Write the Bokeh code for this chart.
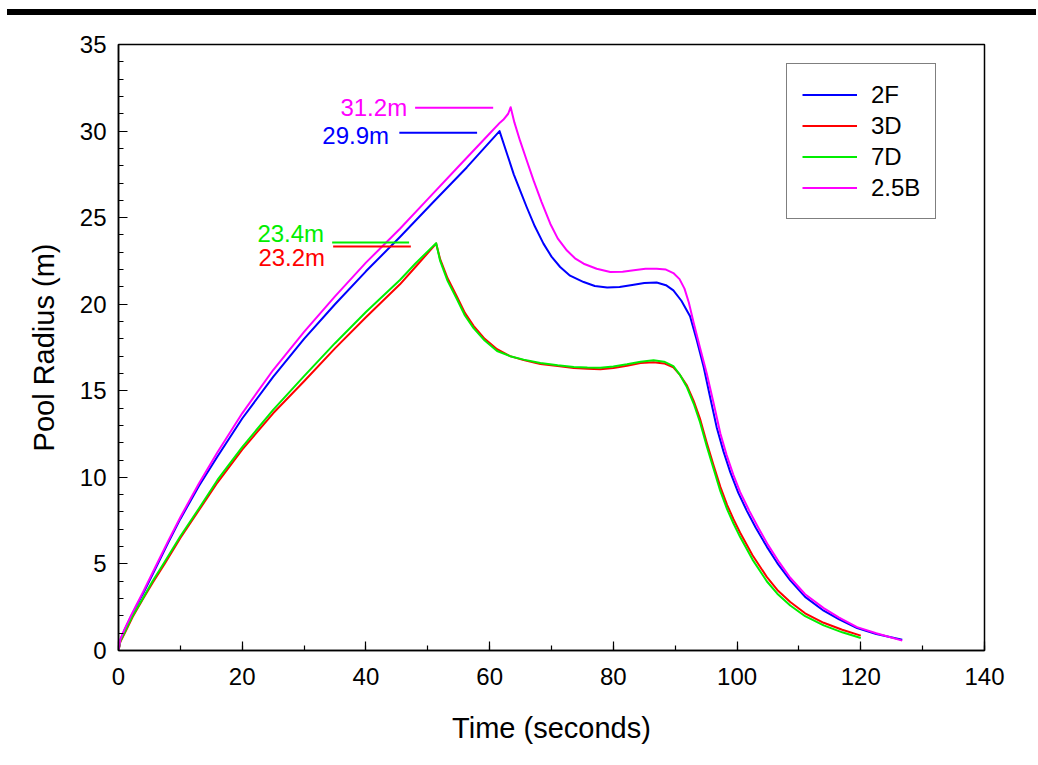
from bokeh.plotting import figure
from bokeh.layouts import column
from bokeh.models import (Range1d, SingleIntervalTicker, Legend, LegendItem,
                          ColumnDataSource, Div)
from bokeh.core.properties import value
from bokeh.embed import file_html
from bokeh.resources import INLINE

FONT = "Liberation Sans"

# ---------------- data ----------------
t_2f = [0, 0.3, 1, 2, 3, 4, 6, 8, 10, 13, 16, 20, 25, 30, 35, 40, 45.5, 50.9, 56.3, 61.6,
        63.9, 65.0, 66.0, 67.3, 68.7, 70.0, 71.4, 73.0, 75.2, 77.0, 79.0, 81.0, 83.3, 85.0, 87.0,
        88.5, 89.7, 91.0, 92.4, 93.5, 94.6, 95.6, 96.7, 97.8, 98.9, 100.2, 101.6, 103.0, 104.8,
        106.5, 108.6, 111.0, 114.0, 116.5, 119.4, 122.5, 126.7]
r_2f = [0, 0.6, 1.2, 1.95, 2.65, 3.3, 4.75, 6.2, 7.6, 9.5, 11.2, 13.4, 15.8, 18.0, 20.0, 21.9, 23.88, 25.9, 27.9, 30.0,
        27.5, 26.5, 25.6, 24.5, 23.5, 22.75, 22.15, 21.65, 21.28, 21.05, 20.96, 21.0, 21.13, 21.22, 21.25,
        21.1, 20.8, 20.2, 19.3, 17.9, 16.37, 14.7, 12.9, 11.5, 10.3, 9.1, 8.05, 7.1, 6.0,
        5.05, 4.05, 3.1, 2.3, 1.8, 1.3, 0.95, 0.62]

t_3d = [0, 0.3, 1, 2.3, 4, 5.5, 7.5, 10, 13, 16, 20, 25, 30, 35, 40, 45.5, 48, 51.35,
        52.0, 53.2, 54.7, 56.0, 57.4, 59.2, 61.2, 63.3, 65.5, 68.2, 71.0, 73.6, 75.8, 77.9, 80.0,
        82.2, 84.4, 86.5, 88.2, 89.7, 90.8, 91.9, 93.0, 94.0, 95.1, 96.2, 97.3, 98.4, 99.4,
        100.5, 102.5, 104.8, 106.5, 108.6, 111.0, 114.0, 117.0, 120.0]
r_3d = [0, 0.5, 1.0, 1.95, 3.0, 3.9, 5.03, 6.5, 8.1, 9.7, 11.6, 13.7, 15.55, 17.45, 19.25, 21.15, 22.15, 23.5,
        22.6, 21.5, 20.45, 19.5, 18.75, 18.0, 17.4, 17.0, 16.77, 16.55, 16.43, 16.32, 16.27, 16.24, 16.32,
        16.45, 16.6, 16.65, 16.58, 16.35, 15.9, 15.3, 14.4, 13.4, 12.0, 10.7, 9.45, 8.4, 7.6,
        6.8, 5.5, 4.25, 3.5, 2.8, 2.15, 1.6, 1.2, 0.86]

t_7d = [0, 0.3, 1, 2.2, 4, 5.5, 7.3, 10, 13, 16, 20, 25, 30, 35, 40, 45.5, 48, 51.35,
        52.0, 53.2, 54.7, 56.0, 57.4, 59.2, 61.2, 63.3, 65.5, 68.2, 71.0, 73.6, 75.8, 77.9, 80.0,
        82.2, 84.4, 86.5, 88.2, 89.7, 90.8, 91.9, 93.0, 94.0, 95.1, 96.2, 97.3, 98.4, 99.4,
        100.5, 102.5, 104.8, 106.5, 108.6, 111.0, 114.0, 117.0, 120.0]
r_7d = [0, 0.55, 1.05, 1.95, 3.05, 4.0, 5.03, 6.6, 8.2, 9.85, 11.75, 13.9, 15.85, 17.75, 19.55, 21.4, 22.35, 23.53,
        22.5, 21.35, 20.3, 19.35, 18.62, 17.9, 17.3, 17.0, 16.8, 16.6, 16.47, 16.38, 16.34, 16.33, 16.4,
        16.53, 16.68, 16.76, 16.68, 16.42, 15.9, 15.2, 14.25, 13.2, 11.8, 10.5, 9.2, 8.15, 7.35,
        6.55, 5.25, 4.0, 3.28, 2.6, 1.98, 1.45, 1.05, 0.72]

t_25b = [0, 0.3, 1, 2, 3, 4, 6, 8, 10, 13, 16, 20, 25, 30, 35, 40, 45.5, 50, 55, 60,
         61.7, 62.2, 63.0, 63.4, 64.0, 64.9, 66.0, 67.1, 68.4, 69.8, 71.0, 72.5, 73.8, 75.2, 77.3,
         79.5, 81.5, 83.3, 85.2, 87.0, 88.5, 89.7, 90.7, 91.5, 92.2, 93.0, 94.0, 95.1, 96.2,
         97.3, 98.3, 99.4, 100.5, 102.0, 103.5, 105.0, 106.8, 108.6, 111.0, 114.0, 116.5, 119.4, 122.5, 126.7]
r_25b = [0, 0.65, 1.25, 2.0, 2.7, 3.4, 4.85, 6.3, 7.7, 9.65, 11.45, 13.7, 16.2, 18.4, 20.45, 22.4, 24.36, 26.07, 27.97, 29.86,
         30.5, 30.65, 31.0, 31.38, 30.5, 29.46, 28.3, 27.15, 25.9, 24.65, 23.8, 23.1, 22.65, 22.34, 22.05,
         21.86, 21.88, 21.96, 22.05, 22.05, 22.0, 21.8, 21.45, 20.9, 20.1, 18.9, 17.5, 16.0, 14.3,
         12.53, 11.3, 10.15, 9.15, 8.05, 7.05, 6.1, 5.1, 4.2, 3.25, 2.45, 1.9, 1.35, 1.0, 0.57]

series_names = ["2F", "3D", "7D", "2.5B"]
series_colors = ["#0000ff", "#ff0000", "#00ee00", "#ff00ff"]

# peak annotations
ann_text = ["31.2m", "29.9m", "23.4m", "23.2m"]
ann_color = ["#ff00ff", "#0000ff", "#00ee00", "#ff0000"]
ann_text_x = [46.66, 43.74, 33.24, 33.40]
ann_text_y = [31.39, 29.75, 24.07, 22.71]
ann_x0 = [47.95, 45.4, 34.54, 34.7]
ann_x1 = [60.57, 57.97, 46.98, 47.26]
ann_y = [31.34, 29.90, 23.57, 23.34]

x_ticks_interval = 20
y_ticks_interval = 5

# ---------------- figure ----------------
p = figure(width=1036, height=747, output_backend="svg", toolbar_location=None,
           x_range=Range1d(0, 140), y_range=Range1d(0, 35),
           min_border_left=118, min_border_right=52, min_border_top=29, min_border_bottom=112,
           x_axis_label="Time (seconds)", y_axis_label="Pool Radius (m)")
p.grid.visible = False
p.outline_line_color = "black"
p.outline_line_width = 1.5
p.background_fill_color = "white"
p.border_fill_color = "white"

p.xaxis.ticker = SingleIntervalTicker(interval=x_ticks_interval, num_minor_ticks=2)
p.yaxis.ticker = SingleIntervalTicker(interval=y_ticks_interval, num_minor_ticks=5)
for ax in (p.xaxis[0], p.yaxis[0]):
    ax.major_tick_in = 9
    ax.major_tick_out = 0
    ax.minor_tick_in = 5
    ax.minor_tick_out = 0
    ax.axis_line_width = 1.5
    ax.major_tick_line_width = 1.2
    ax.minor_tick_line_width = 1.2
    ax.axis_line_color = "black"
    ax.major_tick_line_color = "black"
    ax.minor_tick_line_color = "black"
    ax.major_label_text_font = FONT
    ax.major_label_text_font_size = "24px"
    ax.major_label_text_color = "black"
    ax.axis_label_text_font = FONT
    ax.axis_label_text_font_size = "29px"
    ax.axis_label_text_font_style = "normal"
    ax.axis_label_text_color = "black"
p.xaxis.major_label_standoff = 17
p.xaxis.axis_label_standoff = 24
p.yaxis.major_label_standoff = 12
p.yaxis.axis_label_standoff = 17

series = [(t_2f, r_2f), (t_3d, r_3d), (t_7d, r_7d), (t_25b, r_25b)]
items = []
for (tt, rr), name, col in zip(series, series_names, series_colors):
    r = p.line(tt, rr, line_color=col, line_width=2, line_join="round")
    items.append(LegendItem(label=name, renderers=[r]))

legend = Legend(items=items, location=(668, 431))
legend.label_text_font = FONT
legend.label_text_font_size = "24px"
legend.label_text_color = "black"
legend.glyph_width = 55
legend.glyph_height = 31
legend.label_height = 31
legend.label_standoff = 14
legend.spacing = 0
legend.padding = 15
legend.margin = 0
legend.border_line_color = "black"
legend.border_line_width = 1.2
legend.background_fill_alpha = 1.0
p.add_layout(legend, "center")

src_seg = ColumnDataSource(dict(x0=ann_x0, x1=ann_x1, y=ann_y, c=ann_color))
p.segment(x0="x0", y0="y", x1="x1", y1="y", line_color="c", line_width=2, source=src_seg)
src_txt = ColumnDataSource(dict(x=ann_text_x, y=ann_text_y, t=ann_text, c=ann_color))
p.text(x="x", y="y", text="t", text_color="c", text_font=value(FONT), text_font_size="24px",
       text_align="right", text_baseline="middle", source=src_txt)

# thick rule across the top of the page
top_rule = Div(text="", width=1029, height=6, margin=(9, 0, 0, 7),
               styles={"background-color": "black"})

layout = column(top_rule, p, spacing=0)
open("out.html", "w").write(file_html(layout, INLINE))
